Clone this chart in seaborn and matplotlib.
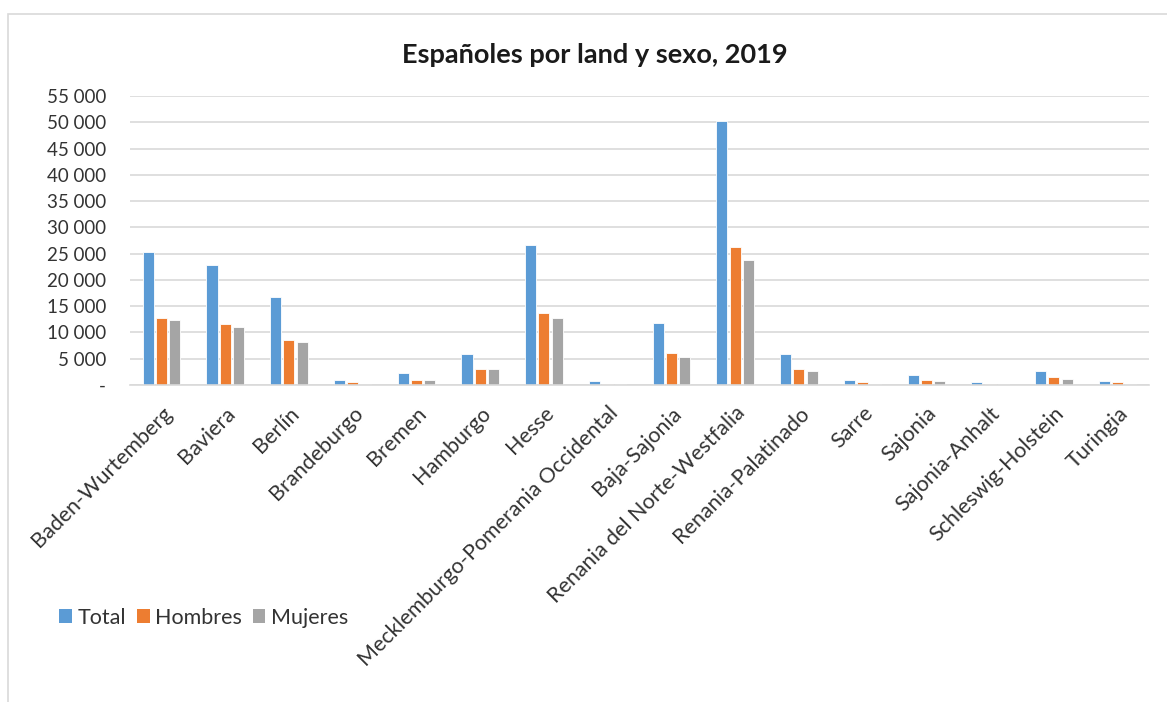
import matplotlib
matplotlib.use("Agg")
import matplotlib.pyplot as plt
import matplotlib.transforms as mtransforms
import seaborn as sns
import pandas as pd
from matplotlib.patches import Rectangle, Patch
from matplotlib.ticker import FuncFormatter

categories = ["Baden-Wurtemberg", "Baviera", "Berlín", "Brandeburgo", "Bremen",
              "Hamburgo", "Hesse", "Mecklemburgo-Pomerania Occidental", "Baja-Sajonia",
              "Renania del Norte-Westfalia", "Renania-Palatinado", "Sarre", "Sajonia",
              "Sajonia-Anhalt", "Schleswig-Holstein", "Turingia"]
total = [25300, 22900, 16700, 950, 2200, 5850, 26700, 700, 11800, 50200, 5850, 950, 1950, 500, 2650, 750]
hombres = [12800, 11600, 8600, 500, 950, 2950, 13700, 250, 6100, 26200, 2950, 500, 950, 250, 1500, 500]
mujeres = [12300, 11100, 8150, 250, 950, 2950, 12750, 250, 5400, 23800, 2650, 250, 750, 100, 1200, 250]
series = ["Total", "Hombres", "Mujeres"]
colors = ["#5B9BD5", "#ED7D31", "#A5A5A5"]
title = "Españoles por land y sexo, 2019"

rows = []
for s, vals in zip(series, [total, hombres, mujeres]):
    for c, v in zip(categories, vals):
        rows.append({"land": c, "serie": s, "valor": v})
df = pd.DataFrame(rows)

sns.set_theme(style="white")
plt.rcParams["font.family"] = ["Lato", "DejaVu Sans"]

fig = plt.figure(figsize=(11.67, 7.02), dpi=100)
ax = fig.add_axes([0.111, 0.4516, 0.874, 0.4114])

sns.barplot(data=df, x="land", y="valor", hue="serie", order=categories,
            hue_order=series, palette=colors, saturation=1, width=0.62, gap=0.16,
            edgecolor="white", linewidth=0.6, ax=ax, legend=False)

ax.set_ylim(0, 55000)
ax.set_yticks(range(0, 55001, 5000))
ax.yaxis.set_major_formatter(FuncFormatter(
    lambda v, p: "-" if v == 0 else f"{int(v):,}".replace(",", " ")))
ax.grid(axis="y", color="#D9D9D9", linewidth=1.2)
ax.set_axisbelow(True)
for s in ["top", "right", "left"]:
    ax.spines[s].set_visible(False)
ax.spines["bottom"].set_color("#D9D9D9")
ax.spines["bottom"].set_linewidth(1.2)
ax.set_xlabel("")
ax.set_ylabel("")
ax.tick_params(axis="y", length=0, pad=17, labelsize=13.5, labelcolor="#333333")
ax.tick_params(axis="x", length=0, pad=13, labelsize=15.5, labelcolor="#333333")
ax.set_xlim(-0.5, len(categories) - 0.5)
offset = mtransforms.ScaledTranslation(0, 0, fig.dpi_scale_trans)
for lbl in ax.get_xticklabels():
    lbl.set_rotation(45)
    lbl.set_ha("right")
    lbl.set_rotation_mode("anchor")
    lbl.set_transform(lbl.get_transform() + offset)

fig.text(0.51, 0.921, title, ha="center", va="center", fontsize=19.5,
         fontweight="bold", color="#1a1a1a")

handles = [Patch(facecolor=c, edgecolor="none") for c in colors]
fig.legend(handles, series, loc="center left", bbox_to_anchor=(0.034, 0.12),
           ncol=3, frameon=False, fontsize=15.5, handlelength=0.6,
           handleheight=0.6, handletextpad=0.25, columnspacing=0.5,
           labelcolor="#333333")

fig.patches.append(Rectangle((8 / 1167, -0.01), 1.0, (702 - 14) / 702 + 0.01,
                             transform=fig.transFigure, fill=False,
                             edgecolor="#D9D9D9", linewidth=1.2))

fig.savefig("out.png", dpi=100, facecolor="white")
